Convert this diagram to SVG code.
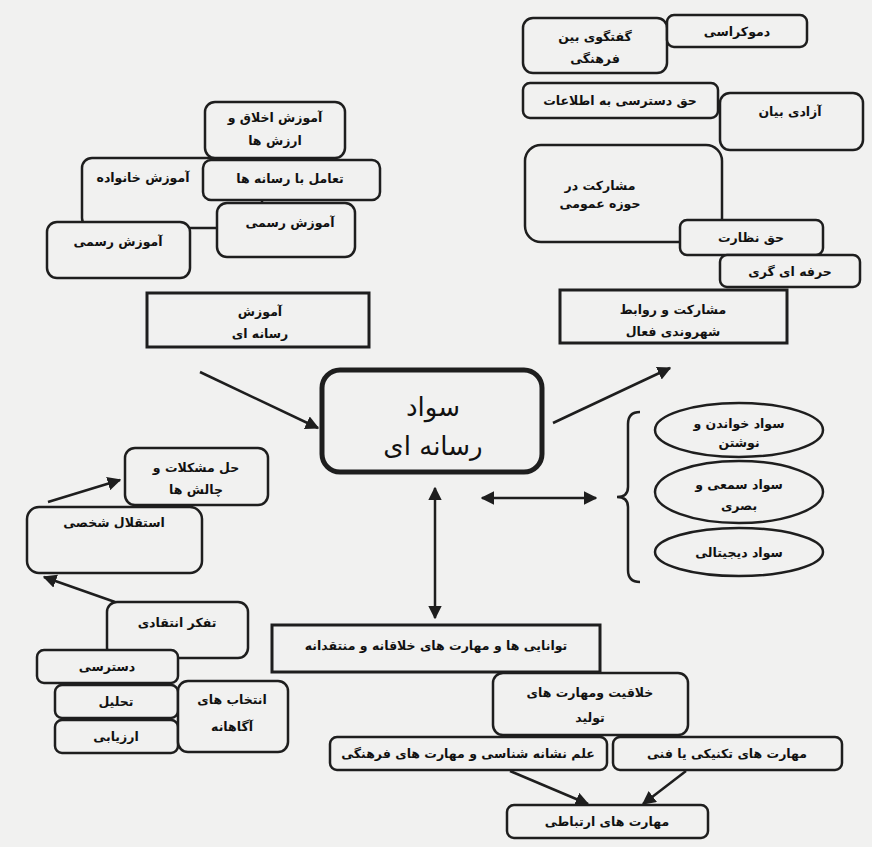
<svg xmlns="http://www.w3.org/2000/svg" width="872" height="847" viewBox="0 0 872 847">
<style>
.b{fill:#f1f1f0;stroke:#1e1e1e;stroke-width:2.5}
.s{fill:#f1f1f0;stroke:#1e1e1e;stroke-width:3}
.t{font-family:"DejaVu Sans",sans-serif;font-weight:bold;font-size:12.5px;fill:#111;text-anchor:middle}
.big{font-family:"DejaVu Sans",sans-serif;font-size:26px;fill:#111;text-anchor:middle}
.c{stroke:#1e1e1e;stroke-width:2.5;fill:none}
</style>
<defs>
<marker id="ah" viewBox="0 0 10 10" refX="9" refY="5" markerWidth="5.5" markerHeight="5.5" orient="auto-start-reverse"><path d="M0,0 L10,5 L0,10 z" fill="#1e1e1e"/></marker>
</defs>
<rect width="872" height="847" fill="#f1f1f0"/>

<g id="connectors">
<line class="c" x1="200" y1="372" x2="318" y2="428" marker-end="url(#ah)"/>
<line class="c" x1="553" y1="423" x2="670" y2="368" marker-end="url(#ah)"/>
<line class="c" x1="435" y1="488" x2="435" y2="618" stroke-width="3" marker-start="url(#ah)" marker-end="url(#ah)"/>
<line class="c" x1="482" y1="498" x2="596" y2="498" stroke-width="1.5" marker-start="url(#ah)" marker-end="url(#ah)"/>
<line class="c" x1="48" y1="502" x2="120" y2="480" stroke-width="2" marker-end="url(#ah)"/>
<line class="c" x1="115" y1="602" x2="44" y2="577" stroke-width="2" marker-end="url(#ah)"/>
<line class="c" x1="510" y1="771" x2="588" y2="804" stroke-width="2" marker-end="url(#ah)"/>
<line class="c" x1="686" y1="771" x2="643" y2="804" stroke-width="2" marker-end="url(#ah)"/>
<path class="c" stroke-width="2" d="M640,412 Q628,412 628,424 L628,487 Q628,497 617,497 Q628,497 628,507 L628,570 Q628,582 640,582"/>
</g>

<g id="n-family"><rect class="b" x="82" y="158" width="180" height="70" rx="10"/><text class="t" x="143" y="182">آموزش خانواده</text></g>
<g id="n-ethics"><rect class="b" x="205" y="102" width="140" height="56" rx="10"/><text class="t" x="275" y="122">آموزش اخلاق و</text><text class="t" x="275" y="145">ارزش ها</text></g>
<g id="n-interact"><rect class="b" x="203" y="160" width="177" height="40" rx="8"/><text class="t" x="290" y="183">تعامل با رسانه ها</text></g>
<g id="n-formal2"><rect class="b" x="217" y="203" width="138" height="54" rx="10"/><text class="t" x="290" y="227">آموزش رسمی</text></g>
<g id="n-formal1"><rect class="b" x="47" y="222" width="143" height="56" rx="10"/><text class="t" x="118" y="246">آموزش رسمی</text></g>
<g id="n-mediaedu"><rect class="s" x="147" y="293" width="222" height="54"/><text class="t" x="260" y="316">آموزش</text><text class="t" x="260" y="338">رسانه ای</text></g>

<g id="n-dialog"><rect class="b" x="523" y="18" width="144" height="55" rx="10"/><text class="t" x="595" y="41">گفتگوی بین</text><text class="t" x="595" y="63">فرهنگی</text></g>
<g id="n-democracy"><rect class="b" x="667" y="15" width="140" height="32" rx="7"/><text class="t" x="737" y="36">دموکراسی</text></g>
<g id="n-access"><rect class="b" x="523" y="83" width="195" height="35" rx="7"/><text class="t" x="620" y="105">حق دسترسی  به اطلاعات</text></g>
<g id="n-speech"><rect class="b" x="720" y="93" width="143" height="57" rx="10"/><text class="t" x="790" y="116">آزادی بیان</text></g>
<g id="n-public"><rect class="b" x="525" y="145" width="197" height="97" rx="16"/><text class="t" x="600" y="190">مشارکت در</text><text class="t" x="600" y="208">حوزه عمومی</text></g>
<g id="n-oversight"><rect class="b" x="680" y="220" width="143" height="35" rx="7"/><text class="t" x="751" y="242">حق نظارت</text></g>
<g id="n-pro"><rect class="b" x="720" y="255" width="140" height="32" rx="7"/><text class="t" x="790" y="276">حرفه ای گری</text></g>
<g id="n-citizen"><rect class="s" x="560" y="290" width="227" height="53"/><text class="t" x="673" y="314">مشارکت و روابط</text><text class="t" x="673" y="336">شهروندی فعال</text></g>

<g id="n-center"><rect x="322" y="370" width="220" height="102" rx="18" fill="#f1f1f0" stroke="#1e1e1e" stroke-width="5"/><text class="big" x="433" y="416">سواد</text><text class="big" x="433" y="455">رسانه ای</text></g>

<g id="n-read"><ellipse class="b" cx="739" cy="430" rx="84" ry="27"/><text class="t" x="739" y="428">سواد خواندن و</text><text class="t" x="739" y="447">نوشتن</text></g>
<g id="n-av"><ellipse class="b" cx="739" cy="492" rx="84" ry="31"/><text class="t" x="739" y="489">سواد سمعی و</text><text class="t" x="739" y="510">بصری</text></g>
<g id="n-digital"><ellipse class="b" cx="739" cy="552" rx="84" ry="24"/><text class="t" x="739" y="557">سواد دیجیتالی</text></g>

<g id="n-problem"><rect class="b" x="125" y="448" width="143" height="57" rx="10"/><text class="t" x="196" y="472">حل مشکلات و</text><text class="t" x="196" y="494">چالش ها</text></g>
<g id="n-indep"><rect class="b" x="27" y="507" width="175" height="66" rx="12"/><text class="t" x="114" y="527">استقلال شخصی</text></g>
<g id="n-critical"><rect class="b" x="107" y="602" width="141" height="56" rx="10"/><text class="t" x="177" y="627">تفکر انتقادی</text></g>
<g id="n-access2"><rect class="b" x="37" y="650" width="141" height="33" rx="7"/><text class="t" x="107" y="671">دسترسی</text></g>
<g id="n-analysis"><rect class="b" x="55" y="685" width="123" height="33" rx="7"/><text class="t" x="116" y="706">تحلیل</text></g>
<g id="n-eval"><rect class="b" x="55" y="720" width="123" height="33" rx="7"/><text class="t" x="116" y="741">ارزیابی</text></g>
<g id="n-choice"><rect class="b" x="178" y="681" width="110" height="71" rx="10"/><text class="t" x="232" y="704">انتخاب های</text><text class="t" x="232" y="731">آگاهانه</text></g>

<g id="n-skills"><rect class="s" x="272" y="625" width="328" height="47"/><text class="t" x="436" y="650">توانایی ها و  مهارت های خلاقانه و منتقدانه</text></g>
<g id="n-create"><rect class="b" x="493" y="673" width="195" height="62" rx="10"/><text class="t" x="590" y="697">خلاقیت ومهارت های</text><text class="t" x="590" y="722">تولید</text></g>
<g id="n-semiotic"><rect class="b" x="330" y="737" width="277" height="33" rx="7"/><text class="t" x="468" y="758">علم نشانه شناسی و مهارت های فرهنگی</text></g>
<g id="n-tech"><rect class="b" x="613" y="737" width="229" height="33" rx="7"/><text class="t" x="727" y="758">مهارت های تکنیکی یا فنی</text></g>
<g id="n-comm"><rect class="b" x="507" y="805" width="201" height="33" rx="7"/><text class="t" x="607" y="826">مهارت های ارتباطی</text></g>
</svg>
